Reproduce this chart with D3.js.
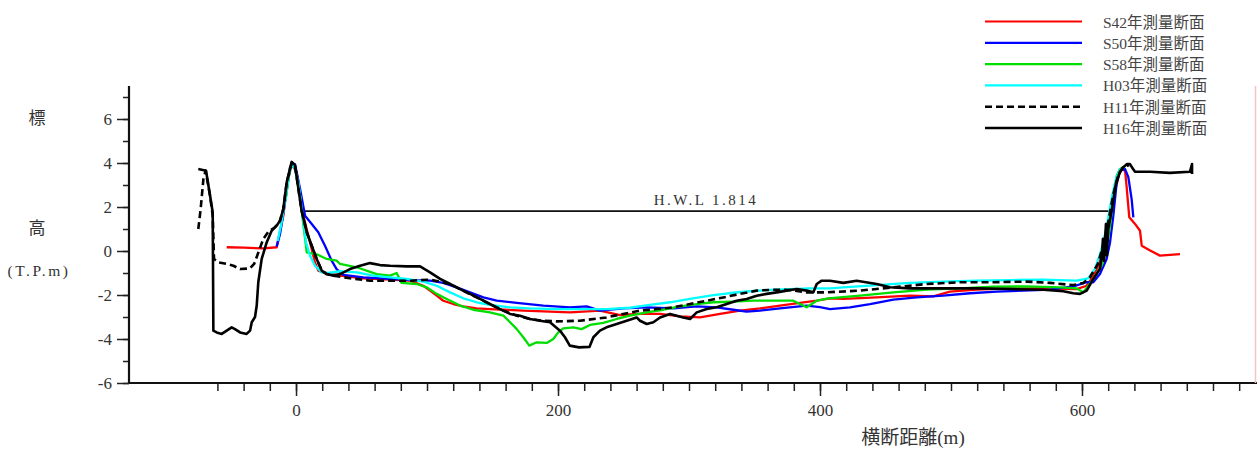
<!DOCTYPE html>
<html><head><meta charset="utf-8">
<script src="https://cdn.jsdelivr.net/npm/d3@7"></script>
<style>
body{margin:0;background:#fff}
text{font-family:"Liberation Serif","Noto Sans CJK JP",serif}
</style>
</head><body>
<svg id="c" width="1257" height="469"></svg>
<script>
// ---- data ----
const seriesNames = ["S42年測量断面","S50年測量断面","S58年測量断面","H03年測量断面","H11年測量断面","H16年測量断面"];
const yTickValues = [-6,-4,-2,0,2,4,6];
const xTickValues = [0,200,400,600];
const hwlValue = 1.814;
const hwlRange = [4.6, 621];
const hwlLabel = "H.W.L 1.814";

const s42 = [[-52.9,0.17],[-40,0.15],[-25,0.12],[-14.8,0.17],[-13.5,0.55],[-9.7,1.6],[-7.1,2.97],[-3.3,3.95],[0.5,3.58],[5.6,1.6],[10.7,0.39],[14.5,-0.52],[17,-0.89],[20.9,-0.97],[33.6,-1.12],[51.4,-1.24],[71.8,-1.3],[87,-1.35],[97.2,-1.58],[102.3,-1.8],[107.4,-2.03],[112.4,-2.26],[120,-2.41],[127.7,-2.52],[137.9,-2.61],[148,-2.64],[173.5,-2.71],[209.2,-2.79],[232,-2.71],[247.3,-2.91],[262.6,-2.86],[277.9,-2.86],[293.1,-2.97],[308.4,-3.02],[323.7,-2.86],[338.9,-2.71],[354.2,-2.61],[369.5,-2.48],[384.7,-2.36],[397.5,-2.26],[407.6,-2.15],[417.8,-2.18],[443.3,-2.11],[468.7,-2.03],[486.5,-2.06],[499.2,-1.85],[519.6,-1.76],[545,-1.7],[570.5,-1.7],[595.9,-1.73],[603.6,-1.58],[608,-1.2],[613,-0.6],[617,0.3],[621,1.4],[625,2.7],[628.5,3.5],[631,3.8],[633,3.6],[634,2.97],[636.1,1.53],[640.5,1.23],[644.3,0.92],[645.6,0.24],[652,0.02],[659.5,-0.21],[674.8,-0.14]];

const s50 = [[-14.8,0.2],[-12.2,0.77],[-8.4,2.21],[-4.6,3.8],[-0.8,3.95],[3.1,2.82],[6.9,1.6],[12,1.23],[17,0.85],[22.1,0.24],[27.2,-0.44],[31,-0.82],[36.1,-1.09],[51.4,-1.2],[71.8,-1.27],[87,-1.32],[102.3,-1.35],[112.4,-1.45],[122.6,-1.65],[132.8,-1.88],[143,-2.11],[153.2,-2.26],[168.5,-2.36],[188.8,-2.48],[209.2,-2.56],[221.9,-2.52],[232,-2.71],[249.8,-2.61],[267.7,-2.56],[288,-2.61],[305.9,-2.52],[321.1,-2.56],[333.8,-2.67],[344,-2.76],[354.2,-2.71],[369.5,-2.61],[389.8,-2.48],[400,-2.55],[407.6,-2.64],[422.9,-2.56],[438.2,-2.41],[456,-2.21],[473.8,-2.11],[494,-2.03],[514.5,-1.92],[534.9,-1.85],[555.2,-1.8],[575.6,-1.76],[593.4,-1.61],[603.6,-1.42],[608.6,-1.42],[613.7,-1.05],[618.8,-0.36],[621.4,0.39],[623.9,1.6],[626.5,3.12],[629,3.65],[632.8,3.73],[635.4,3.35],[637.9,2.36],[639.2,1.53]];

const s58 = [[-8,2.3],[-4.5,3.8],[-1,3.9],[3,2.5],[6,1.0],[8.2,-0.06],[15.8,-0.15],[23.4,-0.36],[31,-0.44],[33.6,-0.59],[46.3,-0.74],[61.6,-1.05],[71.8,-1.12],[76.8,-1.0],[80.6,-1.45],[92.1,-1.5],[99.7,-1.65],[107.4,-1.95],[115,-2.18],[125.2,-2.48],[135.3,-2.67],[148,-2.79],[158.3,-2.94],[163.4,-3.24],[168.5,-3.55],[173.5,-3.92],[178.1,-4.3],[183.7,-4.15],[191.4,-4.18],[196.4,-4.0],[200.2,-3.7],[204,-3.52],[211.7,-3.47],[218,-3.55],[224.4,-3.36],[234.6,-3.27],[244.8,-3.09],[254.9,-2.94],[267.7,-2.79],[280.4,-2.67],[293.1,-2.52],[305.9,-2.41],[318.6,-2.33],[333.8,-2.3],[349,-2.26],[364.4,-2.26],[379.6,-2.26],[389.8,-2.56],[397.5,-2.26],[406.4,-2.15],[430.5,-2.03],[456,-1.88],[481.4,-1.76],[506.9,-1.7],[532.3,-1.62],[557.8,-1.61],[583.2,-1.65],[595.9,-1.7],[601,-1.88],[608.6,-1.27],[615,-0.67],[618.8,0.09],[621.4,1.15],[623.9,2.36],[626.5,3.42],[629,3.73],[631,3.8]];

const h03 = [[-14,0.45],[-11,1.3],[-8,2.4],[-5,3.6],[-2,4.0],[1.8,3.12],[5.1,1.6],[7.6,0.39],[10.7,-0.21],[14.5,-0.67],[19.6,-0.97],[24.7,-1.0],[33.6,-0.92],[46.3,-0.97],[59,-1.12],[71.8,-1.2],[84.5,-1.27],[97.2,-1.39],[107.4,-1.58],[117.6,-1.88],[127.7,-2.15],[137.9,-2.33],[148,-2.45],[163.4,-2.56],[178.6,-2.61],[199,-2.64],[211.7,-2.64],[237,-2.64],[254.9,-2.58],[270.2,-2.45],[285.5,-2.33],[300.8,-2.18],[316,-2.03],[331.3,-1.91],[346.6,-1.83],[361.8,-1.77],[377,-1.73],[392.4,-1.7],[407.6,-1.7],[417.8,-1.65],[443.3,-1.55],[468.7,-1.45],[494,-1.39],[519.6,-1.35],[545,-1.32],[570.5,-1.3],[595.9,-1.35],[604.8,-1.24],[610,-0.8],[614,-0.1],[617,0.6],[620,1.5],[623,2.5],[626,3.3],[629,3.7],[632,3.8]];

const h11 = [[-74.6,1.0],[-72.8,1.91],[-70.7,3.27],[-69,3.65],[-65.6,2.5],[-63.6,1.6],[-62.6,-0.36],[-59.3,-0.52],[-52.9,-0.59],[-47.8,-0.67],[-42.7,-0.82],[-35.1,-0.79],[-32,-0.59],[-28.7,-0.06],[-25,0.55],[-21.1,0.88],[-16,1.08],[-12.2,1.38],[-9.7,1.91],[-7.1,3.12],[-3.3,4.0],[-0.8,3.88],[4.3,1.83],[8.2,0.85],[12,0.24],[15.8,-0.36],[19.6,-0.89],[23.4,-1.05],[28.5,-1.12],[41.2,-1.24],[56.5,-1.35],[71.8,-1.35],[87,-1.35],[102.3,-1.3],[117.6,-1.5],[127.5,-1.8],[137.9,-2.11],[148,-2.41],[158.3,-2.71],[168.5,-2.94],[178.6,-3.09],[188.8,-3.17],[199,-3.2],[216.8,-3.17],[237,-3.02],[249.8,-2.86],[262.6,-2.71],[275.3,-2.64],[288,-2.56],[300.8,-2.41],[313.5,-2.26],[326.2,-2.11],[338.9,-1.95],[351.7,-1.8],[364.4,-1.76],[377,-1.77],[389.8,-1.88],[405,-1.88],[430.5,-1.8],[456,-1.65],[481.4,-1.5],[506.9,-1.42],[532.3,-1.42],[557.8,-1.39],[575.6,-1.45],[593.4,-1.55],[601,-1.45],[606,-1.2],[612,-0.6],[616,0.2],[620,1.3],[624,2.6],[628,3.5],[632,3.85],[636,3.9]];

const h16 = [[-74.6,3.73],[-68.7,3.65],[-65.6,2.51],[-63.6,1.76],[-63.1,-3.62],[-60.6,-3.7],[-56.7,-3.77],[-52.9,-3.62],[-49.1,-3.47],[-46.6,-3.55],[-42.7,-3.7],[-37.7,-3.77],[-35.1,-3.62],[-33.8,-3.24],[-31.3,-3.0],[-30,-2.48],[-28.8,-1.42],[-26.2,-0.36],[-22.4,0.39],[-18.6,0.92],[-14.8,1.15],[-12.2,1.38],[-9.7,1.91],[-7.1,3.12],[-3.3,4.05],[-0.8,3.9],[4.3,1.83],[8.2,0.85],[12,0.24],[15.8,-0.36],[19.6,-0.89],[23.4,-1.05],[28.5,-1.12],[33.6,-1.05],[41.2,-0.82],[48.9,-0.67],[56.5,-0.55],[64.1,-0.64],[71.8,-0.67],[84.5,-0.7],[94.7,-0.7],[102.3,-0.97],[110,-1.27],[117.6,-1.5],[125.2,-1.73],[132.8,-1.95],[140.5,-2.18],[148,-2.41],[155.7,-2.64],[163.4,-2.86],[171,-2.94],[178.6,-3.09],[186.3,-3.17],[193.9,-3.24],[201.5,-3.62],[205.3,-3.92],[209,-4.3],[216,-4.38],[224,-4.36],[227,-3.92],[232,-3.62],[237,-3.47],[244.8,-3.32],[252.4,-3.17],[260,-3.02],[262.6,-3.17],[267.7,-3.32],[272.8,-3.24],[277.9,-3.02],[285.5,-2.86],[290.6,-2.94],[295.6,-3.02],[300.8,-3.09],[305.9,-2.79],[313.5,-2.64],[321.1,-2.56],[328.8,-2.41],[336.4,-2.26],[344,-2.18],[351.7,-2.03],[359.3,-1.95],[366.9,-1.88],[374.6,-1.8],[382.2,-1.73],[389.8,-1.8],[394.9,-1.88],[397.5,-1.5],[401.3,-1.35],[407.6,-1.35],[417.8,-1.45],[428,-1.35],[443.3,-1.5],[453.4,-1.65],[468.7,-1.7],[494,-1.7],[519.6,-1.7],[545,-1.73],[570.5,-1.76],[585.7,-1.83],[593.4,-1.92],[598.5,-1.95],[603.6,-1.8],[608.6,-1.27],[613.7,-0.82],[615.3,-0.14],[616,0.55],[616.8,-0.45],[618.3,1.23],[619,-0.2],[620,1.0],[622.9,1.91],[626,3.1],[629,3.6],[631.3,3.8],[634.4,3.95],[636.6,3.95],[639,3.73],[640.5,3.6],[652,3.6],[667,3.55],[682.4,3.6],[684,3.95],[684,3.5]];

const seriesData = [s42, s50, s58, h03, h11, h16];

// ---- styles ----
const colors = ["#ff0000","#0000ff","#00dd00","#00ffff","#000000","#000000"];
const widths = [2.3,2.3,2.3,2.3,2.6,2.6];
const dashes = [null,null,null,null,"7,4",null];

const svg = d3.select("#c");
const x = d3.scaleLinear().domain([-127.5, 733.6]).range([129, 1257]);
const y = d3.scaleLinear().domain([-6, 7.5]).range([383, 86]);
const fmt = d => String(d);

// axes
const ax = svg.append("g").attr("transform","translate(0,383)");
ax.call(d3.axisBottom(x).tickValues(d3.range(-60,721,20)).tickSize(8).tickFormat(""));
ax.append("g").call(d3.axisBottom(x).tickValues(xTickValues).tickSize(13).tickPadding(8).tickFormat(fmt));
const ay = svg.append("g").attr("transform","translate(129,0)");
ay.call(d3.axisLeft(y).tickValues(d3.range(-6,7.1,1)).tickSize(6).tickFormat(""));
ay.append("g").call(d3.axisLeft(y).tickValues(yTickValues).tickSize(12).tickPadding(5).tickFormat(fmt));
svg.selectAll(".domain").remove();
svg.selectAll(".tick line").attr("stroke","#222").attr("stroke-width",1.5);
svg.selectAll(".tick text").attr("font-family","Liberation Serif").attr("font-size",17).attr("fill","#333");
ay.selectAll(".tick text").attr("dy","0.35em");

svg.append("line").attr("x1",129).attr("x2",1257).attr("y1",y(-6)).attr("y2",y(-6)).attr("stroke","#111").attr("stroke-width",2.2);
svg.append("line").attr("x1",129).attr("x2",129).attr("y1",y(-6)).attr("y2",y(7.5)).attr("stroke","#111").attr("stroke-width",2.2);
svg.append("line").attr("x1",1255.5).attr("x2",1255.5).attr("y1",86).attr("y2",383).attr("stroke","#f2c4c8").attr("stroke-width",1.5);

// HWL
svg.append("line").attr("x1",x(hwlRange[0])).attr("x2",x(hwlRange[1])).attr("y1",y(hwlValue)).attr("y2",y(hwlValue)).attr("stroke","#111").attr("stroke-width",1.6);
svg.append("text").attr("x",706).attr("y",y(hwlValue)-6).attr("text-anchor","middle").attr("font-size",15).attr("letter-spacing",2.5).attr("fill","#333").text(hwlLabel);

// series
const line = d3.line().x(d=>x(d[0])).y(d=>y(d[1]));
seriesData.forEach((s,i)=>{
  svg.append("path").datum(s).attr("d",line).attr("fill","none")
    .attr("stroke",colors[i]).attr("stroke-width",widths[i])
    .attr("stroke-linejoin","round")
    .attr("stroke-dasharray",dashes[i]);
});

// legend
const lg = svg.append("g");
seriesNames.forEach((n,i)=>{
  const yy = 21.5 + i*21.3;
  lg.append("line").attr("x1",985).attr("x2",1082).attr("y1",yy).attr("y2",yy)
    .attr("stroke",colors[i]).attr("stroke-width",i>=4?2.5:2.2).attr("stroke-dasharray",dashes[i]);
  lg.append("text").attr("x",1103).attr("y",yy+6).attr("font-size",15.5).attr("fill","#444").text(n);
});

// axis titles
svg.append("text").attr("x",37).attr("y",124).attr("text-anchor","middle").attr("font-size",17).attr("fill","#333").text("標");
svg.append("text").attr("x",37).attr("y",234).attr("text-anchor","middle").attr("font-size",17).attr("fill","#333").text("高");
svg.append("text").attr("x",39).attr("y",276).attr("text-anchor","middle").attr("font-size",15.5).attr("letter-spacing",2.5).attr("fill","#333").text("(T.P.m)");
svg.append("text").attr("x",913).attr("y",444).attr("text-anchor","middle").attr("font-size",19).attr("fill","#333").text("横断距離(m)");
</script>
</body></html>
